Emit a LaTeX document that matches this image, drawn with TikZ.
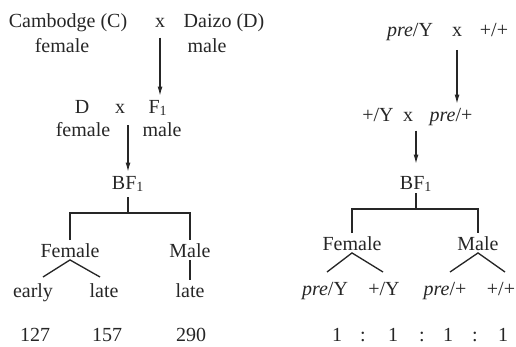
\documentclass[tikz,border=0pt]{standalone}
\usepackage{fontspec}
\setmainfont{Liberation Serif}
\usepackage{tikz}
\usetikzlibrary{arrows.meta,positioning}

\begin{document}
\begin{tikzpicture}[
        x=0.75pt, y=-0.75pt,
        font=\fontsize{15}{18}\selectfont,
        every node/.style={text=black!85},
        lbl/.style={inner sep=2pt, text height=10.5pt, text depth=0pt},
        line/.style={draw=black!85, line width=1pt},
        arr/.style={draw=black!85, line width=1pt, -{Latex[length=7pt,width=3.6pt]}}
    ]
        \useasboundingbox (0,0) rectangle (516,346);

        % left cross: Cambodge x Daizo
        \node[lbl] (camb) at (68,21) {Cambodge (C)};
        \node[lbl] (lx1) at (160,21) {x};
        \node[lbl] (daizo) at (224,21) {Daizo (D)};
        \node[lbl] (lfem1) at (62,46) {female};
        \node[lbl] (lmale1) at (207,46) {male};
        \node[lbl] (ld) at (82,106) {D};
        \node[lbl] (lx2) at (120,106) {x};
        \node[lbl] (lf1) at (158,106) {F\textsubscript{1}};
        \node[lbl] (lfem2) at (83,129) {female};
        \node[lbl] (lmale2) at (162,129) {male};
        \node[lbl] (lbf) at (128,182) {BF\textsubscript{1}};
        \node[lbl] (lfem) at (70,250) {Female};
        \node[lbl] (lmale) at (190,250) {Male};
        \node[lbl] (learly) at (33,290) {early};
        \node[lbl] (llate1) at (104,290) {late};
        \node[lbl] (llate2) at (190,290) {late};
        \node[lbl] (ln1) at (35,334) {127};
        \node[lbl] (ln2) at (107,334) {157};
        \node[lbl] (ln3) at (191,334) {290};
        \coordinate (lbar) at (128,213);
        \coordinate (lfl) at (43,277);
        \coordinate (lfr) at (100,277);

        \draw[arr, shorten <=5pt] (lx1.south) -- (lx1.south |- lf1.north);
        \draw[arr, shorten <=7pt] (lbf.north |- lx2.south) -- (lbf.north);
        \draw[line, shorten <=4pt] (lbf.south) -- (lbar);
        \draw[line] (lfem.north) |- (lbar) -| (lmale.north);
        \draw[line] (lfl) -- (lfem.south) -- (lfr);
        \draw[line] (lmale.south) -- (llate2.north);

        % right cross: pre/Y x +/+
        \node[lbl] (rpy) at (410,30) {\textit{pre}/Y};
        \node[lbl] (rx1) at (457,30) {x};
        \node[lbl] (rpp) at (494,30) {+/+};
        \node[lbl] (rpy2) at (378,114) {+/Y};
        \node[lbl] (rx2) at (408,114) {x};
        \node[lbl] (rpre) at (451,114) {\textit{pre}/+};
        \node[lbl] (rbf) at (416,182) {BF\textsubscript{1}};
        \node[lbl] (rfem) at (352,243) {Female};
        \node[lbl] (rmale) at (478,243) {Male};
        \node[lbl] (rg1) at (325,288) {\textit{pre}/Y};
        \node[lbl] (rg2) at (384,288) {+/Y};
        \node[lbl] (rg3) at (445,288) {\textit{pre}/+};
        \node[lbl] (rg4) at (501,288) {+/+};
        \foreach \x [count=\i] in {337,393,448,503}
            \node[lbl] (rone\i) at (\x,334) {1};
        \foreach \x [count=\i] in {363,422,475}
            \node[lbl] (rcol\i) at (\x,334) {:};
        \coordinate (rbar) at (416,209);
        \coordinate (rfl) at (327,272);
        \coordinate (rfr) at (383,272);
        \coordinate (rml) at (450,272);
        \coordinate (rmr) at (505,272);

        \draw[arr, shorten <=7.5pt] (rx1.south) -- (rx1.south |- rpre.north);
        \draw[arr, shorten <=5pt, shorten >=6pt] (rbf.north |- rx2.south) -- (rbf.north);
        \draw[line, shorten <=1pt] (rbf.south) -- (rbar);
        \draw[line] (rfem.north) |- (rbar) -| (rmale.north);
        \draw[line] (rfl) -- (rfem.south) -- (rfr);
        \draw[line] (rml) -- (rmale.south) -- (rmr);
\end{tikzpicture}
\end{document}
